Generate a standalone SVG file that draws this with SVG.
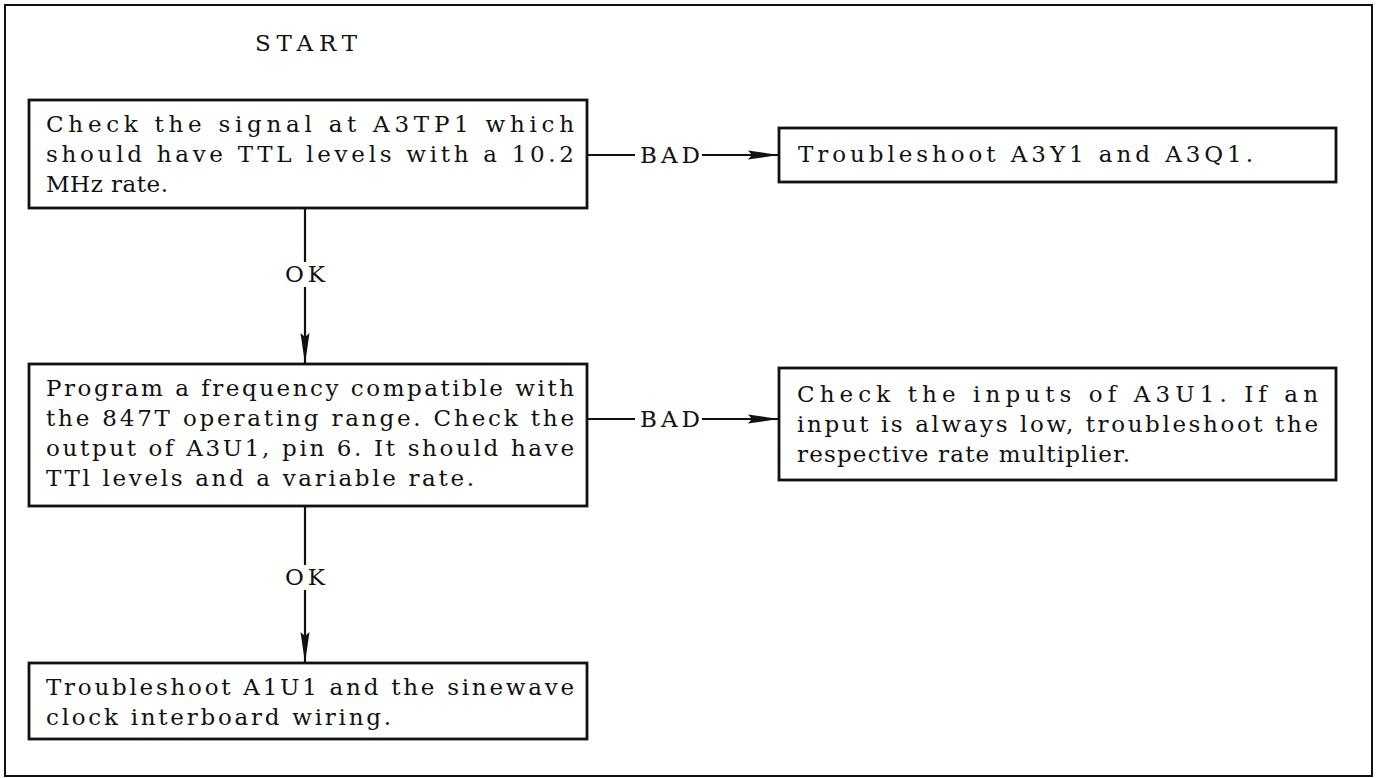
<svg xmlns="http://www.w3.org/2000/svg" width="1377" height="778" viewBox="0 0 1377 778">
<style>
.box{fill:#fff;stroke:#111;stroke-width:2.8}
.t{font-family:"DejaVu Serif","Liberation Serif",serif;font-size:23px;fill:#111}
.lab{font-family:"DejaVu Serif","Liberation Serif",serif;font-size:23px;fill:#111}
.ln{stroke:#111;stroke-width:2.2;fill:none}
</style>
<defs>
<marker id="ah" markerWidth="32" markerHeight="12" refX="31" refY="6" orient="auto" markerUnits="userSpaceOnUse">
<path d="M0,1.5 L31,6 L0,10.5 L4,6 Z" fill="#111"/>
</marker>
</defs>
<rect x="5" y="5" width="1367" height="771" fill="#fff" stroke="#111" stroke-width="2"/>
<text class="lab" x="255" y="51" textLength="102" lengthAdjust="spacing">START</text>
<g id="connectors">
<line class="ln" x1="587" y1="155" x2="635" y2="155"/>
<line class="ln" x1="702" y1="155" x2="779" y2="155" marker-end="url(#ah)"/>
<text class="lab" x="640" y="163" textLength="60" lengthAdjust="spacing">BAD</text>
<line class="ln" x1="587" y1="419" x2="635" y2="419"/>
<line class="ln" x1="702" y1="419" x2="779" y2="419" marker-end="url(#ah)"/>
<text class="lab" x="640" y="427" textLength="60" lengthAdjust="spacing">BAD</text>
<line class="ln" x1="305" y1="208" x2="305" y2="262"/>
<line class="ln" x1="305" y1="287" x2="305" y2="364" marker-end="url(#ah)"/>
<text class="lab" x="285" y="282" textLength="40" lengthAdjust="spacing">OK</text>
<line class="ln" x1="305" y1="506" x2="305" y2="565"/>
<line class="ln" x1="305" y1="590" x2="305" y2="663" marker-end="url(#ah)"/>
<text class="lab" x="285" y="585" textLength="40" lengthAdjust="spacing">OK</text>
</g>
<g id="n1">
<rect class="box" x="29" y="100" width="558" height="108"/>
<text class="t" x="46" y="132" textLength="528" lengthAdjust="spacing">Check the signal at A3TP1 which</text>
<text class="t" x="46" y="162" textLength="528" lengthAdjust="spacing">should have TTL levels with a 10.2</text>
<text class="t" x="46" y="192" textLength="122" lengthAdjust="spacing">MHz rate.</text>
</g>
<g id="n2">
<rect class="box" x="779" y="128" width="557" height="54"/>
<text class="t" x="798" y="162" textLength="455" lengthAdjust="spacing">Troubleshoot A3Y1 and A3Q1.</text>
</g>
<g id="n3">
<rect class="box" x="29" y="364" width="558" height="142"/>
<text class="t" x="46" y="396" textLength="528" lengthAdjust="spacing">Program a frequency compatible with</text>
<text class="t" x="46" y="426" textLength="528" lengthAdjust="spacing">the 847T operating range. Check the</text>
<text class="t" x="46" y="456" textLength="528" lengthAdjust="spacing">output of A3U1, pin 6. It should have</text>
<text class="t" x="46" y="486" textLength="428" lengthAdjust="spacing">TTl levels and a variable rate.</text>
</g>
<g id="n4">
<rect class="box" x="779" y="368" width="557" height="112"/>
<text class="t" x="797" y="402" textLength="521" lengthAdjust="spacing">Check the inputs of A3U1. If an</text>
<text class="t" x="797" y="432" textLength="521" lengthAdjust="spacing">input is always low, troubleshoot the</text>
<text class="t" x="797" y="462" textLength="333" lengthAdjust="spacing">respective rate multiplier.</text>
</g>
<g id="n5">
<rect class="box" x="29" y="663" width="558" height="76"/>
<text class="t" x="46" y="695" textLength="528" lengthAdjust="spacing">Troubleshoot A1U1 and the sinewave</text>
<text class="t" x="46" y="725" textLength="345" lengthAdjust="spacing">clock interboard wiring.</text>
</g>
</svg>
